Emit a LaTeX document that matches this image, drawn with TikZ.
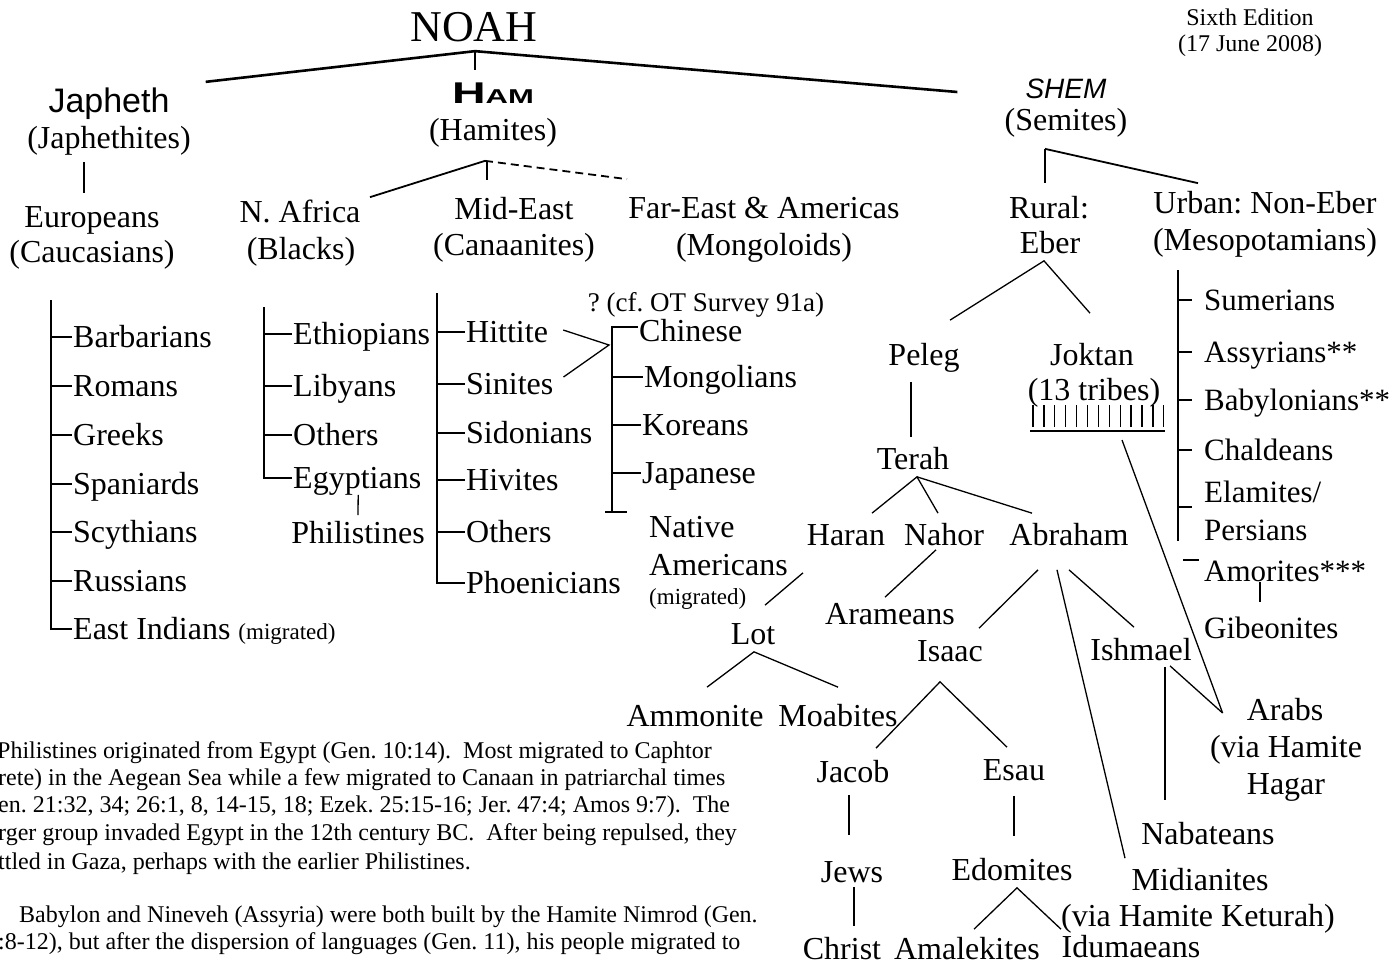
\documentclass[tikz,border=0pt]{standalone}
\usepackage{fontspec}
\setmainfont{Liberation Serif}
\newfontfamily\japfont{Liberation Sans}
\newfontfamily\hamfont[FakeStretch=1.55]{Liberation Sans}
\frenchspacing
\begin{document}
\begin{tikzpicture}[x=1pt,y=-1pt,
        lbl/.style={font=\fontsize{32}{36}\selectfont, inner sep=1pt, text height=24.25pt, text depth=3.05pt},
        item/.style={lbl, anchor=west},
        uitem/.style={item, font=\fontsize{31}{36}\selectfont},
        sml/.style={font=\fontsize{23}{26}\selectfont, inner sep=1pt, anchor=west, text height=17.7pt, text depth=2.5pt},
        note/.style={font=\fontsize{24}{28}\selectfont, inner sep=0pt, anchor=west, text height=18.5pt, text depth=2.6pt},
        edn/.style={font=\fontsize{24}{28}\selectfont, inner sep=1pt, text height=18.5pt, text depth=2.6pt},
        ln/.style={line width=1.3pt},
        midln/.style={line width=1.8pt},
        topln/.style={line width=2.6pt}]
        \useasboundingbox (0,0) rectangle (1393,964);

        \node[lbl, font=\fontsize{44}{48}\selectfont, text height=33.9pt, text depth=4.8pt] (noah) at (474,27) {NOAH};
        \node[edn] (ed1) at (1250,18) {Sixth Edition};
        \node[edn] (ed2) at (1250,44) {(17 June 2008)};

        \node[lbl, font=\japfont\fontsize{34}{38}\selectfont, text height=27.1pt, text depth=2.8pt] (japheth) at (109,100) {Japheth};
        \node[lbl] (japhethites) at (109,138) {(Japhethites)};
        \node[lbl] (europeans) at (92,217) {Europeans};
        \node[lbl] (caucasians) at (92,252) {(Caucasians)};
        \node[lbl, font=\hamfont\bfseries\fontsize{30}{32}\selectfont, text height=24pt, text depth=2.4pt] (ham) at (493,93) {H{\fontsize{20}{22}\selectfont AM}};
        \node[lbl] (hamites) at (493,130) {(Hamites)};
        \node[lbl] (nafrica) at (300,212) {N. Africa};
        \node[lbl] (blacks) at (301,249) {(Blacks)};
        \node[lbl] (mideast) at (514,209) {Mid-East};
        \node[lbl] (canaanites) at (514,245) {(Canaanites)};
        \node[lbl] (fareast) at (764,208) {Far-East \& Americas};
        \node[lbl] (mongoloids) at (764,245) {(Mongoloids)};
        \node[lbl, font=\japfont\itshape\fontsize{28}{32}\selectfont, text height=22.3pt, text depth=2.3pt] (shem) at (1066,88) {SHEM};
        \node[lbl] (semites) at (1066,120) {(Semites)};
        \node[lbl] (rural) at (1049,208) {Rural:};
        \node[lbl] (eber) at (1050,243) {Eber};
        \node[lbl] (urban) at (1265,203) {Urban: Non-Eber};
        \node[lbl] (meso) at (1265,240) {(Mesopotamians)};

        \coordinate (noahJ) at ([xshift=1pt,yshift=-3.6pt]noah.south);
        \draw[topln] ([xshift=35pt,yshift=2pt]japheth.north east) -- (noahJ) -- ([xshift=-67pt,yshift=-4pt]shem.west);
        \draw[ln] (noahJ) -- ([xshift=-18pt,yshift=9pt]ham.north);
        \draw[ln] ([xshift=-25pt,yshift=-9pt]japhethites.south) -- ([xshift=-8pt,yshift=9pt]europeans.north);
        \coordinate (hamJ) at ([xshift=-8pt,yshift=-16pt]hamites.south);
        \draw[midln] ([xshift=70pt]nafrica.north) -- (hamJ);
        \draw[midln, dash pattern=on 8pt off 5pt] (hamJ) -- ([xshift=-137pt,yshift=14pt]fareast.north);
        \draw[ln] ([xshift=2pt]hamJ) -- ([xshift=-27pt,yshift=14pt]mideast.north);
        \coordinate (shemJ) at ([xshift=-21pt,yshift=-14pt]semites.south);
        \draw[midln] (shemJ) -- ([xshift=-4pt,yshift=10pt]rural.north);
        \draw[midln] (shemJ) -- ([xshift=-67pt,yshift=5pt]urban.north);

        \node[item] (barbarians) at (72,337) {Barbarians};
        \node[item] (romans) at (72,386) {Romans};
        \node[item] (greeks) at (72,435) {Greeks};
        \node[item] (spaniards) at (72,484) {Spaniards};
        \node[item] (scythians) at (72,532) {Scythians};
        \node[item] (russians) at (72,581) {Russians};
        \node[item] (eastind) at (72,629) {East Indians {\fontsize{23}{26}\selectfont (migrated)}};
        \coordinate (jbar) at (51,300);
        \draw[ln] (jbar) |- (eastind.west);
        \foreach \n in {barbarians,romans,greeks,spaniards,scythians,russians}
            \draw[ln] (\n.west -| jbar) -- (\n.west);

        \node[item] (ethiopians) at (292,334) {Ethiopians};
        \node[item] (libyans) at (292,386) {Libyans};
        \node[item] (othersA) at (292,435) {Others};
        \node[item] (egyptians) at (292,478) {Egyptians};
        \node[lbl] (philistines) at (358,533) {Philistines};
        \coordinate (nbar) at (264,307);
        \draw[ln] (nbar) |- (egyptians.west);
        \foreach \n in {ethiopians,libyans,othersA}
            \draw[ln] (\n.west -| nbar) -- (\n.west);
        \draw[ln] ([xshift=1pt,yshift=-2pt]egyptians.south) -- ([yshift=3pt]philistines.north);

        \node[item] (hittite) at (465,332) {Hittite};
        \node[item] (sinites) at (465,384) {Sinites};
        \node[item] (sidonians) at (465,433) {Sidonians};
        \node[item] (hivites) at (465,480) {Hivites};
        \node[item] (othersB) at (465,532) {Others};
        \node[item] (phoenicians) at (465,583) {Phoenicians};
        \coordinate (mbar) at (437,293);
        \draw[ln] (mbar) |- (phoenicians.west);
        \foreach \n in {hittite,sinites,sidonians,hivites,othersB}
            \draw[ln] (\n.west -| mbar) -- (\n.west);

        \node[lbl, font=\fontsize{27}{30}\selectfont, text height=20.85pt, text depth=2.95pt, inner sep=0pt] (cfnote) at (706,303) {? (cf. OT Survey 91a)};
        \node[item] (chinese) at (638,331) {Chinese};
        \node[item] (mongolians) at (643,377) {Mongolians};
        \node[item] (koreans) at (641,425) {Koreans};
        \node[item] (japanese) at (641,473) {Japanese};
        \coordinate (fbar) at (612,512);
        \draw[ln] ([yshift=4pt]chinese.west) -| (fbar);
        \draw[ln] ([xshift=-7pt]fbar) -- ([xshift=15pt]fbar);
        \foreach \n in {mongolians,koreans,japanese}
            \draw[ln] (\n.west -| fbar) -- (\n.west);
        \coordinate (fJ) at (609,345);
        \draw[ln] ([xshift=14pt,yshift=2pt]hittite.east) -- (fJ) -- ([xshift=9pt,yshift=7pt]sinites.east);
        \node[item] (native) at (648,527) {Native};
        \node[item] (americans) at (648,565) {Americans};
        \node[sml] (migrated) at (648,597) {(migrated)};

        \node[uitem] (sumerians) at (1203,300) {Sumerians};
        \node[uitem] (assyrians) at (1203,352) {Assyrians**};
        \node[uitem] (babylonians) at (1203,400) {Babylonians**};
        \node[uitem] (chaldeans) at (1203,450) {Chaldeans};
        \node[uitem] (elamites) at (1203,492) {Elamites/};
        \node[uitem] (persians) at (1203,530) {Persians};
        \node[uitem] (amorites) at (1203,571) {Amorites***};
        \node[uitem] (gibeonites) at (1203,628) {Gibeonites};
        \coordinate (ubar) at (1178,270);
        \coordinate (ubarB) at (1178,541);
        \draw[ln] (ubar) -- (ubarB);
        \foreach \n in {sumerians,assyrians,babylonians,chaldeans}
            \draw[ln] (\n.west -| ubar) -- ++(14,0);
        \coordinate (elamT) at ([yshift=-15pt]elamites.west);
        \draw[ln] (elamT -| ubar) -- ++(14,0);
        \draw[ln] ([xshift=-20pt,yshift=11pt]amorites.west) -- ++(16,0);
        \draw[ln] ([xshift=57pt,yshift=4pt]amorites.south west) -- ([xshift=57pt,yshift=11pt]gibeonites.north west);

        \node[lbl] (peleg) at (924,355) {Peleg};
        \node[lbl] (joktan) at (1092,355) {Joktan};
        \node[lbl] (tribes) at (1094,390) {(13 tribes)};
        \node[lbl] (terah) at (913,459) {Terah};
        \node[lbl] (haran) at (846,535) {Haran};
        \node[lbl] (nahor) at (944,535) {Nahor};
        \node[lbl] (abraham) at (1069,535) {Abraham};
        \node[lbl] (lot) at (753,634) {Lot};
        \node[lbl] (ammonite) at (695,716) {Ammonite};
        \node[lbl] (moabites) at (838,716) {Moabites};
        \node[lbl] (arameans) at (890,614) {Arameans};
        \node[lbl] (isaac) at (950,651) {Isaac};
        \node[lbl] (ishmael) at (1141,650) {Ishmael};
        \node[lbl] (jacob) at (853,772) {Jacob};
        \node[lbl] (esau) at (1014,770) {Esau};
        \node[lbl] (jews) at (852,872) {Jews};
        \node[lbl] (edomites) at (1012,870) {Edomites};
        \node[lbl] (christ) at (842,949) {Christ};
        \node[lbl] (amalekites) at (967,949) {Amalekites};
        \node[lbl] (idumaeans) at (1131,947) {Idumaeans};
        \node[lbl] (midianites) at (1200,880) {Midianites};
        \node[lbl] (keturah) at (1198,916) {(via Hamite Keturah)};
        \node[lbl] (nabateans) at (1208,834) {Nabateans};
        \node[lbl] (arabs) at (1285,710) {Arabs};
        \node[lbl] (viahamite) at (1286,747) {(via Hamite};
        \node[lbl] (hagar) at (1286,784) {Hagar};

        \coordinate (eberJ) at ([xshift=-6pt,yshift=-3pt]eber.south);
        \draw[ln] ([xshift=26pt,yshift=20pt]peleg.north) -- (eberJ) -- ([xshift=-2pt,yshift=27pt]joktan.north);
        \draw[ln] ([xshift=-13pt,yshift=-12pt]peleg.south) -- ([xshift=-2pt,yshift=7pt]terah.north);
        \coordinate (terahJ) at ([xshift=4pt,yshift=-3pt]terah.south);
        \draw[ln] ([xshift=26pt,yshift=7pt]haran.north) -- (terahJ) -- ([xshift=-6pt,yshift=7pt]nahor.north);
        \draw[ln] (terahJ) -- ([xshift=-37pt,yshift=7pt]abraham.north);
        \draw[ln] ([xshift=-43pt,yshift=-23pt]haran.south) -- ([xshift=12pt,yshift=14pt]lot.north);
        \coordinate (lotJ) at ([xshift=1pt,yshift=-3pt]lot.south);
        \draw[ln] ([xshift=12pt,yshift=14pt]ammonite.north) -- (lotJ) -- ([yshift=14pt]moabites.north);
        \draw[ln] ([xshift=-8pt]nahor.south) -- ([xshift=-5pt,yshift=2pt]arameans.north);
        \draw[ln] ([xshift=-31pt,yshift=-20pt]abraham.south) -- ([xshift=29pt,yshift=8pt]isaac.north);
        \draw[ln] ([xshift=-12pt,yshift=-20pt]abraham.south) -- ([xshift=-75pt,yshift=7pt]midianites.north);
        \draw[ln] ([yshift=-20pt]abraham.south) -- ([xshift=-7pt,yshift=8pt]ishmael.north);
        \coordinate (isaacJ) at ([xshift=-10pt,yshift=-16pt]isaac.south);
        \draw[ln] ([xshift=23pt,yshift=9pt]jacob.north) -- (isaacJ) -- ([xshift=-7pt,yshift=8pt]esau.north);
        \draw[ln] ([xshift=-4pt,yshift=-8pt]jacob.south) -- ([xshift=-3pt,yshift=22pt]jews.north);
        \draw[ln] ([yshift=-11pt]esau.south) -- ([xshift=2pt,yshift=19pt]edomites.north);
        \draw[ln] ([xshift=2pt]jews.south) -- ([xshift=12pt,yshift=8pt]christ.north);
        \coordinate (edomJ) at ([xshift=5pt,yshift=-3pt]edomites.south);
        \draw[ln] ([xshift=7pt,yshift=5pt]amalekites.north) -- (edomJ) -- ([xshift=-70pt,yshift=3pt]idumaeans.north);
        \draw[ln] ([xshift=29pt,yshift=-1pt]ishmael.south) -- ([xshift=-23pt,yshift=-3pt]arabs.west);
        \draw[ln] ([xshift=24pt,yshift=-2pt]ishmael.south) -- ([xshift=-43pt,yshift=19pt]nabateans.north);

        \coordinate (comb) at (1030,431);
        \draw[ln] (comb) -- ++(135,0);
        \foreach \i in {0,...,12}
            \draw[line width=1.3pt] ([xshift=\i*10.9pt+3pt]comb) ++(0,-4) -- ++(0,-22);
        \draw[ln] ([xshift=92pt,yshift=-9pt]comb) -- ([xshift=-23pt,yshift=-3pt]arabs.west);

        \node[note] (n1) at (-3,751) {Philistines originated from Egypt (Gen. 10:14).\ \ Most migrated to Caphtor};
        \node[note] (n2) at (-2,778) {rete) in the Aegean Sea while a few migrated to Canaan in patriarchal times};
        \node[note] (n3) at (-2,805) {en. 21:32, 34; 26:1, 8, 14-15, 18; Ezek. 25:15-16; Jer. 47:4; Amos 9:7).\ \ The};
        \node[note] (n4) at (-2,833) {rger group invaded Egypt in the 12th century BC.\ \ After being repulsed, they};
        \node[note] (n5) at (-2,862) {ttled in Gaza, perhaps with the earlier Philistines.};
        \node[note] (n6) at (19,915) {Babylon and Nineveh (Assyria) were both built by the Hamite Nimrod (Gen.};
        \node[note] (n7) at (-2,942) {:8-12), but after the dispersion of languages (Gen. 11), his people migrated to};
    \end{tikzpicture}
\end{document}
